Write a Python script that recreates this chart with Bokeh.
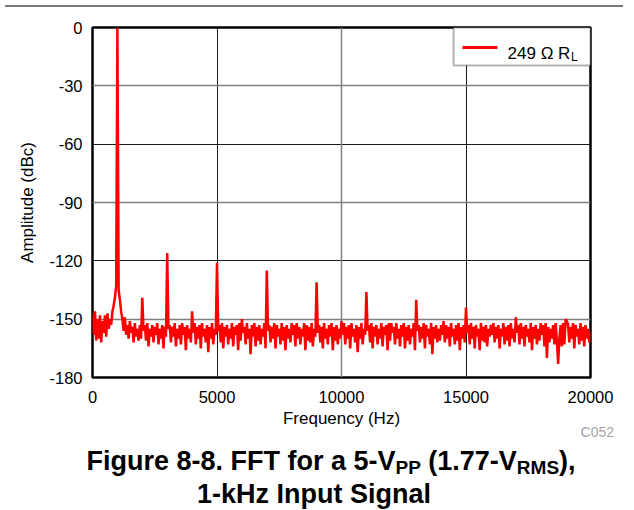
from bokeh.plotting import figure
from bokeh.models import (Range1d, FixedTicker, Grid, BoxAnnotation, Label,
                          Arrow, Div)
from bokeh.layouts import column
from bokeh.embed import file_html
from bokeh.resources import INLINE

# ---------------- data ----------------
freq_step_hz = 50
amplitude_dbc = [
    # 0 - 950 Hz
    -147, -158, -146, -161, -150, -160, -148, -162, -151, -157,
    -148, -159, -147, -155, -150, -153, -146, -143, -139, -133,
    # 1000 - 1950 Hz
    0, -135, -140, -146, -150, -156, -149, -158, -153, -160,
    -151, -157, -154, -162, -152, -159, -155, -161, -153, -160,
    # 2000
    -139, -156, -153, -161, -152, -164, -155, -159, -153, -162,
    -154, -158, -152, -163, -155, -160, -153, -165, -154, -159,
    # 3000
    -116, -155, -153, -162, -154, -159, -152, -164, -155, -160,
    -153, -163, -152, -158, -154, -166, -153, -160, -155, -162,
    # 4000
    -146, -157, -152, -163, -154, -160, -153, -165, -152, -159,
    -155, -162, -153, -167, -154, -160, -152, -163, -155, -158,
    # 5000
    -121, -156, -153, -162, -152, -165, -154, -159, -153, -163,
    -155, -160, -152, -164, -154, -158, -153, -166, -152, -161,
    # 6000
    -150, -157, -154, -163, -152, -160, -155, -168, -153, -159,
    -152, -164, -154, -161, -153, -163, -155, -159, -152, -165,
    # 7000
    -125, -156, -153, -162, -154, -160, -152, -165, -153, -159,
    -155, -163, -152, -161, -154, -166, -153, -160, -155, -162,
    # 8000
    -152, -158, -153, -164, -152, -160, -154, -163, -155, -159,
    -152, -166, -153, -161, -154, -162, -152, -164, -155, -159,
    # 9000
    -131, -157, -153, -162, -154, -165, -152, -160, -155, -163,
    -153, -159, -152, -166, -154, -161, -153, -163, -155, -160,
    # 10000
    -151, -158, -152, -163, -154, -160, -153, -165, -152, -159,
    -155, -162, -153, -167, -154, -160, -152, -163, -155, -158,
    # 11000
    -136, -156, -153, -162, -152, -165, -154, -159, -153, -163,
    -155, -160, -152, -164, -154, -158, -153, -166, -152, -161,
    # 12000
    -152, -157, -154, -163, -152, -160, -155, -164, -153, -159,
    -152, -165, -154, -161, -153, -163, -155, -159, -152, -166,
    # 13000
    -140, -156, -153, -162, -154, -160, -152, -165, -153, -159,
    -155, -163, -152, -168, -154, -160, -153, -162, -155, -161,
    # 14000
    -153, -158, -151, -162, -153, -160, -154, -164, -152, -159,
    -155, -163, -153, -161, -152, -166, -154, -160, -153, -162,
    # 15000
    -144, -157, -153, -163, -152, -160, -154, -165, -153, -159,
    -155, -166, -152, -161, -154, -162, -153, -164, -155, -159,
    # 16000
    -153, -158, -152, -162, -154, -160, -153, -165, -155, -159,
    -152, -163, -154, -161, -153, -164, -152, -160, -155, -162,
    # 17000
    -149, -157, -153, -163, -152, -160, -154, -164, -153, -159,
    -155, -162, -152, -166, -154, -160, -153, -163, -155, -161,
    # 18000
    -152, -158, -153, -164, -152, -170, -154, -162, -155, -160,
    -153, -163, -152, -161, -173, -160, -153, -164, -152, -163,
    # 19000
    -150, -151, -153, -162, -154, -160, -152, -165, -153, -159,
    -155, -163, -152, -161, -154, -164, -153, -160, -155, -162,
    # 20000
    -157,
]
freq_hz = [i * freq_step_hz for i in range(len(amplitude_dbc))]

x_ticks = [0, 5000, 10000, 15000, 20000]
y_ticks = [-180, -150, -120, -90, -60, -30, 0]
x_grid_dark = [5000, 15000]
x_grid_gray = [10000]
y_grid_dark = [-60, -120]
y_grid_gray = [-30, -90, -150]
series_label = "249 Ω R"
series_label_sub = "L"
x_label = "Frequency (Hz)"
y_label = "Amplitude (dBc)"
code_text = "C052"

FONT = "Liberation Sans"
RED = "#ff0000"

# ---------------- figure ----------------
p = figure(width=618, height=432,
           x_range=Range1d(0, 20000), y_range=Range1d(-180, 0),
           output_backend="svg", toolbar_location=None,
           min_border_left=92, min_border_right=28,
           min_border_top=15, min_border_bottom=67)
p.background_fill_color = "white"
p.border_fill_color = "white"
p.outline_line_color = "black"
p.outline_line_width = 2.5

# grids
p.xgrid.ticker = FixedTicker(ticks=x_grid_dark)
p.xgrid.grid_line_color = "#1a1a1a"
p.xgrid.grid_line_width = 1
p.ygrid.ticker = FixedTicker(ticks=y_grid_dark)
p.ygrid.grid_line_color = "#1a1a1a"
p.ygrid.grid_line_width = 1
p.add_layout(Grid(dimension=0, ticker=FixedTicker(ticks=x_grid_gray),
                  grid_line_color="#808080", grid_line_width=1.5))
p.add_layout(Grid(dimension=1, ticker=FixedTicker(ticks=y_grid_gray),
                  grid_line_color="#808080", grid_line_width=1.5))

# axes
for ax in (p.xaxis[0], p.yaxis[0]):
    ax.axis_line_color = None
    ax.major_tick_line_color = None
    ax.minor_tick_line_color = None
    ax.major_tick_out = 0
    ax.major_tick_in = 0
    ax.major_label_text_font = FONT
    ax.major_label_text_font_size = "16.5px"
    ax.major_label_text_color = "black"
    ax.axis_label_text_font = FONT
    ax.axis_label_text_font_size = "17px"
    ax.axis_label_text_font_style = "normal"
    ax.axis_label_text_color = "black"

p.xaxis.ticker = FixedTicker(ticks=x_ticks)
p.yaxis.ticker = FixedTicker(ticks=y_ticks)
p.xaxis.major_label_overrides = {t: str(t) for t in x_ticks}
p.yaxis.major_label_overrides = {t: str(t) for t in y_ticks}
p.xaxis.axis_label = x_label
p.yaxis.axis_label = y_label
p.xaxis.major_label_standoff = 13
p.xaxis.axis_label_standoff = 3
p.yaxis.major_label_standoff = 10
p.yaxis.axis_label_standoff = 9

# data
p.line(freq_hz, amplitude_dbc, line_color=RED, line_width=2.5)

# legend (drawn by hand so that R_L gets its subscript)
p.add_layout(BoxAnnotation(left=14500, right=20000, top=0, bottom=-19.5,
                           fill_color="white", fill_alpha=1.0,
                           line_color="black", line_width=2))
p.add_layout(Arrow(end=None, x_start=14860, y_start=-10.3,
                   x_end=16260, y_end=-10.3,
                   line_color=RED, line_width=3))
p.add_layout(Label(x=16670, y=-13.5, text=series_label,
                   text_font=FONT, text_font_size="17px",
                   text_baseline="alphabetic", text_align="left",
                   text_color="black"))
p.add_layout(Label(x=19220, y=-15.4, text=series_label_sub,
                   text_font=FONT, text_font_size="12px",
                   text_baseline="alphabetic", text_align="left",
                   text_color="black"))

# ---------------- page ----------------
top_rule = Div(text="", width=618, height=2,
               styles={"background-color": "#7a7a7a"})

title_html = (
    '<div style="position:relative;width:618px;'
    'font-family:\'Liberation Sans\',Arial,sans-serif;color:#000;'
    'white-space:nowrap;">'
    '<div style="position:absolute;right:9px;top:-21px;font-size:14px;'
    'line-height:14px;color:#a6a6a6;font-weight:normal;">' + code_text + '</div>'
    '<div style="font-weight:bold;font-size:27px;line-height:31px;'
    'text-align:center;padding-left:34px;margin-top:-3px;">'
    'Figure 8-8. FFT for a 5-V<span style="font-size:19px;position:relative;top:4px;">PP</span>'
    ' (1.77-V<span style="font-size:19px;position:relative;top:4px;">RMS</span>),</div>'
    '<div style="font-weight:bold;font-size:27px;line-height:31px;'
    'text-align:center;">1-kHz Input Signal</div>'
    '</div>'
)
title = Div(text=title_html, width=618, height=58)

layout = column(top_rule, p, title, spacing=0)

with open("out.html", "w") as f:
    f.write(file_html(layout, INLINE))
